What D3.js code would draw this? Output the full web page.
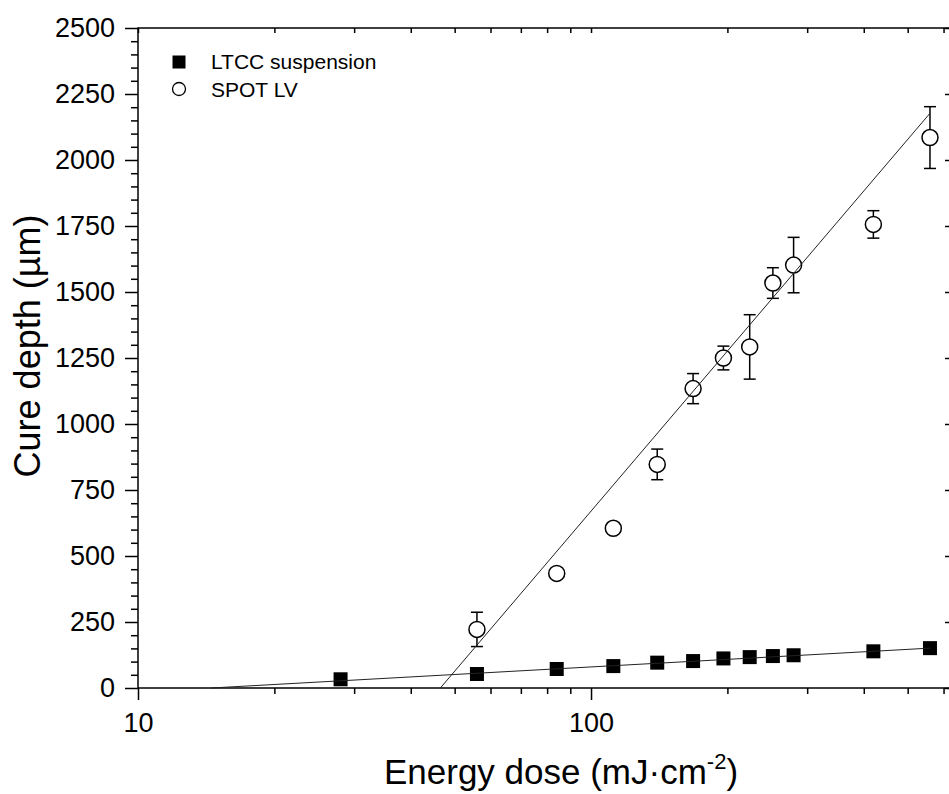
<!DOCTYPE html>
<html>
<head>
<meta charset="utf-8">
<script src="https://cdn.jsdelivr.net/npm/d3@7"></script>
<style>
html, body { margin: 0; padding: 0; background: #fff; }
svg { display: block; font-family: Arial, "Liberation Sans", sans-serif; }
</style>
</head>
<body>
<svg id="chart" width="949" height="794"></svg>
<script>
// ---- data ----
const ltccDoses = [28, 56, 84, 112, 140, 168, 196, 224, 252, 280, 420, 560];
const ltccDepth = [33, 53, 72, 83, 96, 102, 112, 117, 121, 124, 139, 151];
const spotDoses = [56, 84, 112, 140, 168, 196, 224, 252, 280, 420, 560];
const spotDepth = [222, 434, 605, 847, 1134, 1250, 1292, 1534, 1602, 1756, 2085];
const spotErr   = [65, 6, 6, 58, 57, 45, 122, 58, 105, 52, 117];
const ltccFit = [[14.5, 0], [560, 151]];
const spotFit = [[46.5, 0], [560, 2177]];
const yMajorTicks = [0, 250, 500, 750, 1000, 1250, 1500, 1750, 2000, 2250, 2500];
const yMinorTicks = d3.range(0, 2501, 50).filter(v => v % 250 !== 0);
const xMajorTicks = [10, 100];
const xMinorTicks = [20, 30, 40, 50, 60, 70, 80, 90, 200, 300, 400, 500, 600];
const seriesNames = ["LTCC suspension", "SPOT LV"];
const xTitle = "Energy dose (mJ·cm";
const yTitle = "Cure depth (µm)";

// ---- layout ----
const L = 138, R = 950, T = 28, B = 688;
const svg = d3.select("#chart");
const x = d3.scaleLog().domain([10, 620]).range([L, R]);
const y = d3.scaleLinear().domain([0, 2500]).range([B, T]);
const fontAxis = 27;

// minor ticks
svg.append("g").attr("transform", `translate(${L},0)`)
  .call(d3.axisLeft(y).tickValues(yMinorTicks).tickSize(7).tickSizeOuter(0).tickFormat(""))
  .call(g => g.select(".domain").remove());
svg.append("g").attr("transform", `translate(0,${B})`)
  .call(d3.axisBottom(x).tickValues(xMinorTicks).tickSize(6).tickSizeOuter(0).tickFormat(""))
  .call(g => g.select(".domain").remove());
// top ticks (inward)
svg.append("g").attr("transform", `translate(0,${T})`)
  .call(d3.axisTop(x).tickValues(xMajorTicks.concat(xMinorTicks)).tickSize(-5).tickSizeOuter(0).tickFormat(""))
  .call(g => g.select(".domain").remove());
// right ticks (inward)
svg.append("g").attr("transform", `translate(${R},0)`)
  .call(d3.axisRight(y).tickValues(yMajorTicks).tickSize(-5).tickSizeOuter(0).tickFormat(""))
  .call(g => g.select(".domain").remove());

// major axes
const yAxis = svg.append("g").attr("transform", `translate(${L},0)`)
  .call(d3.axisLeft(y).tickValues(yMajorTicks).tickSize(13).tickSizeOuter(0).tickPadding(10).tickFormat(d3.format("d")))
  .call(g => g.select(".domain").remove());
yAxis.selectAll("text").attr("font-size", fontAxis).attr("font-family", "Arial, 'Liberation Sans', sans-serif").attr("fill", "#000");
const xAxis = svg.append("g").attr("transform", `translate(0,${B})`)
  .call(d3.axisBottom(x).tickValues(xMajorTicks).tickSize(12).tickSizeOuter(0).tickPadding(13).tickFormat(d3.format("d")))
  .call(g => g.select(".domain").remove());
xAxis.selectAll("text").attr("font-size", fontAxis).attr("font-family", "Arial, 'Liberation Sans', sans-serif").attr("fill", "#000");

svg.selectAll(".tick line").attr("stroke", "#000").attr("stroke-width", 1.5);

// frame
svg.append("rect").attr("x", L).attr("y", T).attr("width", R - L).attr("height", B - T)
  .attr("fill", "none").attr("stroke", "#000").attr("stroke-width", 1.5);

// error bars for SPOT LV
const eb = svg.append("g").attr("stroke", "#000").attr("stroke-width", 1.5);
spotDoses.forEach((d, i) => {
  const cx = x(d), y1 = y(spotDepth[i] + spotErr[i]), y2 = y(spotDepth[i] - spotErr[i]);
  eb.append("line").attr("x1", cx).attr("x2", cx).attr("y1", y1).attr("y2", y2);
  eb.append("line").attr("x1", cx - 6).attr("x2", cx + 6).attr("y1", y1).attr("y2", y1);
  eb.append("line").attr("x1", cx - 6).attr("x2", cx + 6).attr("y1", y2).attr("y2", y2);
});

// SPOT circles
svg.append("g").selectAll("circle").data(spotDoses).join("circle")
  .attr("cx", d => x(d)).attr("cy", (d, i) => y(spotDepth[i])).attr("r", 8)
  .attr("fill", "#fff").attr("stroke", "#000").attr("stroke-width", 1.5);

// LTCC squares
svg.append("g").selectAll("rect").data(ltccDoses).join("rect")
  .attr("x", d => x(d) - 7).attr("y", (d, i) => y(ltccDepth[i]) - 7)
  .attr("width", 14).attr("height", 14).attr("fill", "#000");

// fit lines
const line = d3.line().x(d => x(d[0])).y(d => y(d[1]));
[ltccFit, spotFit].forEach(f => {
  svg.append("path").attr("d", line(f)).attr("fill", "none").attr("stroke", "#222").attr("stroke-width", 1);
});

// legend
const lg = svg.append("g").attr("font-size", 21).attr("fill", "#000");
lg.append("rect").attr("x", 179 - 6.5).attr("y", 62 - 6.5).attr("width", 13).attr("height", 13).attr("fill", "#000");
lg.append("text").attr("x", 211).attr("y", 69).text(seriesNames[0]);
lg.append("circle").attr("cx", 179).attr("cy", 89).attr("r", 6.5).attr("fill", "#fff").attr("stroke", "#000").attr("stroke-width", 1.3);
lg.append("text").attr("x", 211).attr("y", 97).text(seriesNames[1]);

// axis titles
const xt = svg.append("text").attr("x", 561).attr("y", 784).attr("text-anchor", "middle")
  .attr("font-size", 35).attr("fill", "#000");
xt.append("tspan").text(xTitle);
xt.append("tspan").attr("font-size", 22).attr("dy", -15).text("-2");
xt.append("tspan").attr("dy", 15).text(")");

svg.append("text").attr("transform", "translate(40,346) rotate(-90)").attr("text-anchor", "middle")
  .attr("font-size", 36).attr("fill", "#000").text(yTitle);
</script>
</body>
</html>
